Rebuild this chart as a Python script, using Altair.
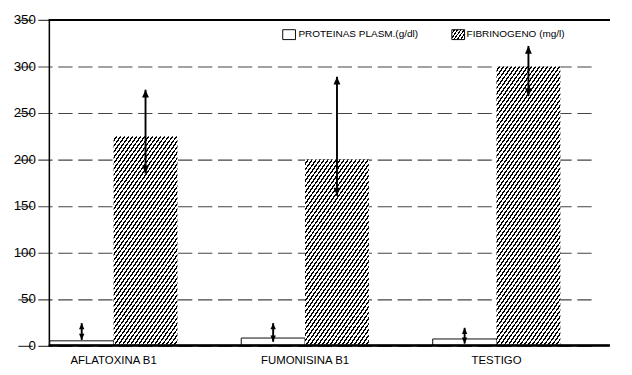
import math
import altair as alt
import pandas as pd

# ---- data ----
groups = ["AFLATOXINA B1", "FUMONISINA B1", "TESTIGO"]
series = ["PROTEINAS PLASM.(g/dl)", "FIBRINOGENO (mg/l)"]
prot_vals = [5, 8, 7]
prot_lo = [6, 4, 2]
prot_hi = [24, 24, 19]
fib_vals = [225, 200, 300]
fib_lo = [185, 161, 268]
fib_hi = [275, 289, 322]
y_ticks = [0, 50, 100, 150, 200, 250, 300, 350]

rows = []
for g, v, lo, hi in zip(groups, prot_vals, prot_lo, prot_hi):
    rows.append({"grupo": g, "serie": series[0], "valor": v, "lo": lo, "hi": hi})
for g, v, lo, hi in zip(groups, fib_vals, fib_lo, fib_hi):
    rows.append({"grupo": g, "serie": series[1], "valor": v, "lo": lo, "hi": hi})
df = pd.DataFrame(rows)

W, H = 590, 342.5
YMAX = 350
FONT = "Liberation Sans"


def hatch(w, h, angle=55.0, period=4.2, dark=0.4):
    """Diagonal hatch as a striped linear gradient (style only)."""
    r = math.tan(math.radians(angle)) * w / h
    b = (1 + r) / (1 + r * r)
    a = r * b
    n = w * (a * a + b * b) / (period * a)
    stops = []
    k = 0
    while k / n < 1:
        t0 = k / n
        t1 = min((k + 1 - dark) / n, 1)
        t2 = min((k + 1) / n, 1)
        stops += [
            {"offset": t0, "color": "white"},
            {"offset": t1, "color": "white"},
            {"offset": t1, "color": "black"},
            {"offset": t2, "color": "black"},
        ]
        k += 1
    return {"gradient": "linear", "x1": 0, "y1": 0, "x2": a, "y2": b, "stops": stops}


STEP = 201.4
X0 = -32.6
xscale = alt.Scale(domain=groups, range=[X0, X0 + 3 * STEP], paddingInner=0, paddingOuter=0)
xoff_scale = alt.Scale(domain=series, paddingInner=0, paddingOuter=0.5)
bar_w = STEP / 3.0

yscale = alt.Scale(domain=[0, YMAX], nice=False, zero=True)
yaxis = alt.Axis(
    values=y_ticks, title=None, ticks=False, labelFont=FONT, labelFontSize=14,
    labelColor="black", labelPadding=14.2, domainColor="black", domainWidth=1.6,
    grid=True, gridDash=[15, 6], gridColor="#444444", gridWidth=1.2,
    minExtent=42.8, maxExtent=42.8,
)
xaxis = alt.Axis(
    title=None, ticks=False, domain=False, labelAngle=0, labelFont=FONT,
    labelFontSize=12, labelColor="black", labelPadding=10,
)

X = alt.X("grupo:N", sort=groups, scale=xscale, axis=xaxis)
XO = alt.XOffset("serie:N", sort=series, scale=xoff_scale)

base = alt.Chart(df)

prot_bars = base.transform_filter(alt.datum.serie == series[0]).mark_bar(
    fill="white", stroke="black", strokeWidth=1
).encode(x=X, xOffset=XO, y=alt.Y("valor:Q", scale=yscale, axis=yaxis))

fib_layers = []
for g, v in zip(groups, fib_vals):
    hpx = v / YMAX * H
    fib_layers.append(
        base.transform_filter((alt.datum.serie == series[1]) & (alt.datum.grupo == g))
        .mark_bar(fill=hatch(bar_w, hpx), strokeWidth=0)
        .encode(x=X, xOffset=XO, y=alt.Y("valor:Q", scale=yscale, axis=yaxis))
    )

top_rule = base.mark_rule(color="black", strokeWidth=1.6).encode(
    y=alt.Y(datum=YMAX, scale=yscale, axis=yaxis)
)
bottom_rule = base.mark_rule(color="black", strokeWidth=1.6).encode(
    y=alt.Y(datum=0, scale=yscale, axis=yaxis)
)

shafts = base.mark_rule(color="black", strokeWidth=2).encode(
    x=X, xOffset=XO, y=alt.Y("lo:Q", scale=yscale, axis=yaxis), y2="hi:Q"
)
up_head = "M0,0L-1,2.3L1,2.3Z"
down_head = "M0,0L-1,-2.3L1,-2.3Z"
head_layers = []
for s, sz in zip(series, [32, 52]):
    for shape, field in [(up_head, "hi:Q"), (down_head, "lo:Q")]:
        head_layers.append(
            base.transform_filter(alt.datum.serie == s)
            .mark_point(shape=shape, filled=True, fill="black", strokeWidth=0, opacity=1, size=sz)
            .encode(x=X, xOffset=XO, y=alt.Y(field, scale=yscale, axis=yaxis))
        )

# ---- manual legend ----
leg_df = pd.DataFrame({"serie": series})
leg = alt.Chart(leg_df)
leg_box1 = leg.transform_filter(alt.datum.serie == series[0]).mark_rect(
    fill="white", stroke="black", strokeWidth=1
).encode(x=alt.value(246.0), x2=alt.value(259.4), y=alt.value(10.3), y2=alt.value(20.7))
leg_box2 = leg.transform_filter(alt.datum.serie == series[1]).mark_rect(
    fill=hatch(13.4, 10.4, period=3.4), stroke="black", strokeWidth=1
).encode(x=alt.value(423.9), x2=alt.value(437.3), y=alt.value(10.3), y2=alt.value(20.7))
leg_txt1 = leg.transform_filter(alt.datum.serie == series[0]).mark_text(
    align="left", baseline="middle", font=FONT, fontSize=10.5, color="black"
).encode(x=alt.value(262.5), y=alt.value(15.5), text="serie:N")
leg_txt2 = leg.transform_filter(alt.datum.serie == series[1]).mark_text(
    align="left", baseline="middle", font=FONT, fontSize=10.5, color="black"
).encode(x=alt.value(439.4), y=alt.value(15.5), text="serie:N")

chart = alt.layer(
    prot_bars, *fib_layers, top_rule, bottom_rule, shafts, *head_layers,
    leg_box1, leg_box2, leg_txt1, leg_txt2,
).properties(
    width=W, height=H, padding={"left": 0, "top": -4, "right": 0, "bottom": 0}, background="white"
).configure_view(stroke=None)

chart.save("out.html", embed_options={"renderer": "svg", "actions": False})
